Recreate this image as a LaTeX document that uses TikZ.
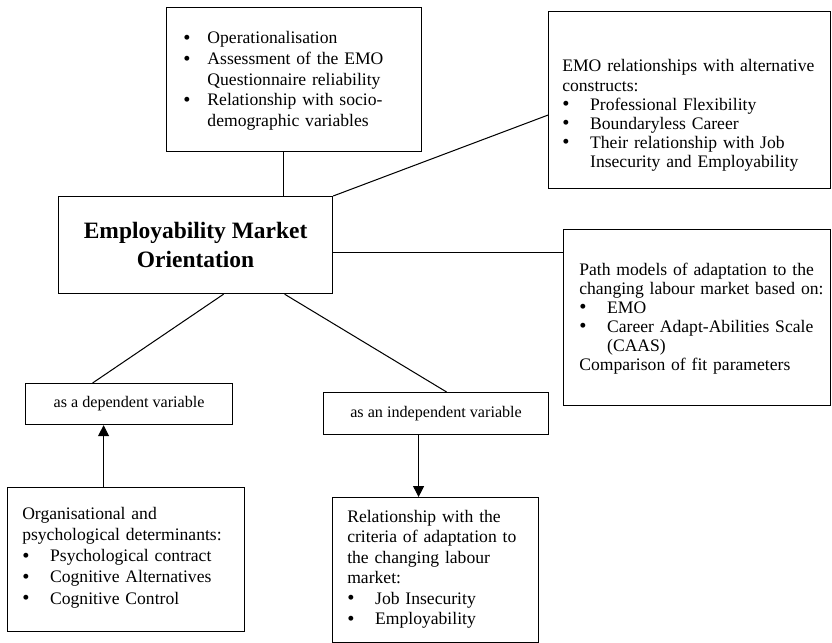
\documentclass[tikz,border=0pt]{standalone}
\usepackage{fontspec}
\setmainfont{Liberation Serif}
\usetikzlibrary{arrows.meta, positioning}
\newcommand{\unit}{0.682pt}
\newlength{\bulind}
\setlength{\bulind}{19pt}
\newcommand{\bulline}[1]{\noindent\makebox[\bulind][l]{\raisebox{-0.5pt}{\fontsize{14}{14}\selectfont\textbullet}}#1}
\newcommand{\itm}[1]{\par\bulline{#1}}
\newcommand{\nxt}{\newline\hspace*{\bulind}}

\begin{document}
\begin{tikzpicture}[x=\unit, y=-\unit,
  frame/.style={draw, line width=0.8pt, inner sep=0pt, anchor=north west},
  txt/.style={inner sep=0pt, anchor=base west, align=left, font=\fontsize{12}{#1}\selectfont},
  txt/.default=13.8,
  small/.style={font=\fontsize{11}{13}\selectfont},
  link/.style={line width=0.7pt},
  arr/.style={line width=0.7pt, -{Triangle[width=7.5pt,length=7.5pt]}}]
  \useasboundingbox (0,0) rectangle (832,643);

  % Top box: questionnaire
  \node[frame, minimum width=255*\unit, minimum height=144*\unit] (topbox) at (166,7) {};
  \node[txt=14, text width=162pt] (toptxt) at (183,44) {\setlength{\bulind}{16.5pt}%
    \bulline{Operationalisation}
    \itm{Assessment of the EMO\nxt Questionnaire reliability}
    \itm{Relationship with socio-\nxt demographic variables}};

  % EMO relationships
  \node[frame, minimum width=282*\unit, minimum height=177*\unit] (emo) at (548,11) {};
  \node[txt=13, text width=183pt] (emotxt) at (562,72) {EMO relationships with alternative\par constructs:
    \itm{Professional Flexibility}
    \itm{Boundaryless Career}
    \itm{Their relationship with Job\nxt Insecurity and Employability}};

  % Main box
  \node[frame, minimum width=274*\unit, minimum height=97*\unit, align=center,
        font=\fontsize{16}{20}\selectfont\bfseries] (main) at (58,196) {Employability Market\\Orientation};

  % Path models
  \node[frame, minimum width=267*\unit, minimum height=176*\unit] (path) at (563,229) {};
  \node[txt=13, text width=171pt] (pathtxt) at (579,275) {Path models of adaptation to the\par changing labour market based on:
    \itm{EMO}
    \itm{Career Adapt-Abilities Scale\nxt (CAAS)}
    \par Comparison of fit parameters};

  % Variable boxes
  \node[frame, small, minimum width=207*\unit, minimum height=41*\unit] (dep) at (25,383) {as a dependent variable};
  \node[frame, small, minimum width=225*\unit, minimum height=42*\unit] (indep) at (323,392) {as an independent variable};

  % Determinants
  \node[frame, minimum width=237*\unit, minimum height=144*\unit] (org) at (7,487) {};
  \node[txt=14.5, text width=151pt] (orgtxt) at (22,519) {Organisational and\par psychological determinants:
    \itm{Psychological contract}
    \itm{Cognitive Alternatives}
    \itm{Cognitive Control}};

  % Criteria of adaptation
  \node[frame, minimum width=206*\unit, minimum height=145*\unit] (rel) at (332,497) {};
  \node[txt=14, text width=130pt] (reltxt) at (347,522) {Relationship with the\par criteria of adaptation to\par the changing labour\par market:
    \itm{Job Insecurity}
    \itm{Employability}};

  % Connectors
  \path (topbox.south) ++(-10.5,0) coordinate (tb);
  \path (emo.west) ++(0,15) coordinate (ew);
  \path (main.east) ++(0,7) coordinate (me);
  \path (main.south) ++(28,0) coordinate (ms1);
  \path (main.south) ++(89,0) coordinate (ms2);
  \path (dep.north) ++(-36.5,0) coordinate (dn);
  \path (indep.north) ++(10.5,0) coordinate (indn);
  \path (org.north) ++(-22.5,0) coordinate (on);
  \path (indep.south) ++(-17.5,0) coordinate (is);

  \draw[link] (tb) -- (tb |- main.north);
  \draw[link] (main.north east) -- (ew);
  \draw[link] (me) -- (me -| path.west);
  \draw[link] (ms1) -- (dn);
  \draw[link] (ms2) -- (indn);
  \draw[arr] (on) -- (on |- dep.south);
  \draw[arr] (is) -- (is |- rel.north);
\end{tikzpicture}
\end{document}
